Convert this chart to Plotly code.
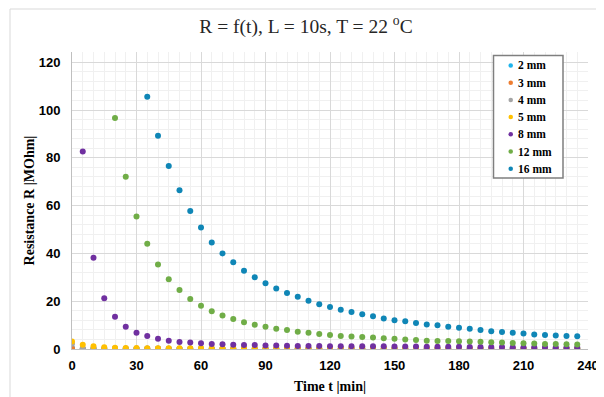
import plotly.graph_objects as go

# ---- data ----
names = ["2 mm", "3 mm", "4 mm", "5 mm", "8 mm", "12 mm", "16 mm"]
colors = ["#1FB4EC", "#ED7D31", "#A5A5A5", "#FFC000", "#7030A0", "#70AD47", "#0F86B6"]

t_2mm = list(range(0, 240, 5))
r_2mm = [0.3, 0.1, 0.1, 0.1, 0.1, 0.1, 0.1, 0.1, 0.1, 0.1, 0.1, 0.1, 0.1, 0.1, 0.1, 0.1,
         0.1, 0.1, 0.1, 0.1, 0.1, 0.1, 0.1, 0.1, 0.1, 0.1, 0.1, 0.1, 0.1, 0.1, 0.1, 0.1,
         0.1, 0.1, 0.1, 0.1, 0.1, 0.1, 0.1, 0.1, 0.1, 0.1, 0.1, 0.1, 0.1, 0.1, 0.1, 0.1]

t_3mm = list(range(0, 240, 5))
r_3mm = [0.2, 0.1, 0.1, 0.1, 0.1, 0.1, 0.1, 0.1, 0.1, 0.1, 0.1, 0.1, 0.1, 0.1, 0.1, 0.1,
         0.1, 0.1, 0.1, 0.1, 0.1, 0.1, 0.1, 0.1, 0.1, 0.1, 0.1, 0.1, 0.1, 0.1, 0.1, 0.1,
         0.1, 0.1, 0.1, 0.1, 0.1, 0.1, 0.1, 0.1, 0.1, 0.1, 0.1, 0.1, 0.1, 0.1, 0.1, 0.1]

t_4mm = list(range(0, 240, 5))
r_4mm = [2.2, 0.2, 0.2, 0.2, 0.2, 0.2, 0.2, 0.2, 0.2, 0.1, 0.1, 0.1, 0.1, 0.1, 0.1, 0.1,
         0.1, 0.1, 0.1, 0.1, 0.1, 0.1, 0.1, 0.1, 0.1, 0.1, 0.1, 0.1, 0.1, 0.1, 0.1, 0.1,
         0.1, 0.1, 0.1, 0.1, 0.1, 0.1, 0.1, 0.1, 0.1, 0.1, 0.1, 0.1, 0.1, 0.1, 0.1, 0.1]

t_5mm = list(range(0, 240, 5))
r_5mm = [3.1, 1.8, 1.1, 0.7, 0.5, 0.4, 0.4, 0.3, 0.3, 0.3, 0.3, 0.3, 0.3, 0.2, 0.2, 0.2,
         0.2, 0.2, 0.2, 0.2, 0.2, 0.2, 0.2, 0.2, 0.2, 0.2, 0.2, 0.2, 0.2, 0.2, 0.2, 0.2,
         0.2, 0.1, 0.1, 0.1, 0.1, 0.1, 0.1, 0.1, 0.1, 0.1, 0.1, 0.1, 0.1, 0.1, 0.1, 0.1]

t_8mm = list(range(5, 240, 5))
r_8mm = [82.7, 38.2, 21.2, 13.5, 9.3, 6.8, 5.4, 4.3, 3.5, 2.9,
         2.7, 2.4, 2.1, 2.0, 1.8, 1.7, 1.7, 1.5, 1.5, 1.4,
         1.3, 1.3, 1.3, 1.2, 1.2, 1.2, 1.1, 1.1, 1.1, 1.0,
         1.0, 1.0, 0.9, 0.9, 0.9, 0.9, 0.8, 0.8, 0.8, 0.8,
         0.7, 0.7, 0.7, 0.7, 0.6, 0.6, 0.6]

t_12mm = list(range(20, 240, 5))
r_12mm = [96.7, 72.1, 55.5, 44.0, 35.4, 29.2, 24.7, 20.9, 18.1, 15.8,
          14.0, 12.6, 11.2, 10.2, 9.3, 8.5, 7.9, 7.2, 6.8, 6.3,
          5.9, 5.4, 5.2, 5.0, 4.8, 4.5, 4.3, 4.0, 3.8, 3.5,
          3.4, 3.3, 3.2, 3.1, 3.0, 2.8, 2.7, 2.5, 2.4, 2.3,
          2.1, 2.1, 2.0, 1.9]

t_16mm = list(range(35, 240, 5))
r_16mm = [105.6, 89.3, 76.6, 66.4, 57.8, 50.8, 44.6, 40.0, 36.3, 32.8,
          30.0, 27.5, 25.3, 23.4, 21.9, 20.2, 18.7, 17.6, 16.4, 15.5,
          14.5, 13.7, 12.8, 12.0, 11.6, 10.9, 10.3, 9.9, 9.3, 8.9,
          8.5, 7.9, 7.4, 7.1, 6.8, 6.5, 6.1, 5.9, 5.6, 5.4, 5.3]

xs = [t_2mm, t_3mm, t_4mm, t_5mm, t_8mm, t_12mm, t_16mm]
ys = [r_2mm, r_3mm, r_4mm, r_5mm, r_8mm, r_12mm, r_16mm]

x_ticks = [0, 30, 60, 90, 120, 150, 180, 210, 240]
y_ticks = [0, 20, 40, 60, 80, 100, 120]

serif = "Liberation Serif, Times New Roman, serif"
sans = "Liberation Sans, Arial, sans-serif"

# The page body has an 8px margin, so the figure is drawn 8px smaller and
# everything is expressed in screen pixels minus that offset.
OFF = 8
W, H = 604 - OFF, 397 - OFF
L, R, T, B = 72 - OFF, 16, 52 - OFF, 48
PW, PH = W - L - R, H - T - B


def px(sx):
    return (sx - OFF - L) / PW


def py(sy):
    return (H - B - (sy - OFF)) / PH


fig = go.Figure()
for n, c, x, y in zip(names, colors, xs, ys):
    fig.add_trace(go.Scatter(x=x, y=y, mode="markers", name=n, showlegend=False,
                             marker=dict(color=c, size=6, line=dict(width=0))))

fig.update_layout(
    width=W, height=H,
    margin=dict(l=L, r=R, t=T, b=B, autoexpand=False),
    paper_bgcolor="white", plot_bgcolor="white",
    title=dict(text="R = f(t), L = 10s, T = 22 <sup>o</sup>C",
               font=dict(family=serif, size=19.5, color="#262626"),
               x=0.5, xanchor="center", y=1 - 18 / H, yanchor="middle", automargin=False),
    showlegend=False,
    xaxis=dict(range=[0, 240], tickvals=x_ticks, ticktext=[str(v) for v in x_ticks],
               automargin=False,
               showgrid=True, gridcolor="#D9D9D9", gridwidth=1,
               minor=dict(dtick=5, showgrid=True, gridcolor="#F0F0F0", gridwidth=1),
               showline=True, linecolor="#BFBFBF", linewidth=1,
               zeroline=False, ticks="", ticklabelstandoff=4,
               tickfont=dict(family=sans, size=13, color="#000000", weight="bold"),
               title=dict(text="Time t |min|", standoff=9,
                          font=dict(family=serif, size=14, color="#000000", weight="bold"))),
    yaxis=dict(range=[0, 124.3], tickvals=y_ticks, ticktext=[str(v) for v in y_ticks],
               automargin=False,
               showgrid=True, gridcolor="#D9D9D9", gridwidth=1,
               minor=dict(dtick=4, showgrid=True, gridcolor="#F0F0F0", gridwidth=1),
               showline=True, linecolor="#BFBFBF", linewidth=1,
               zeroline=False, ticks="", ticklabelstandoff=8,
               tickfont=dict(family=sans, size=13, color="#000000", weight="bold"),
               title=dict(text="Resistance R |MOhm|", standoff=0,
                          font=dict(family=serif, size=14, color="#000000", weight="bold"))),
)

# chart-area border (left and top visible)
fig.add_shape(type="line", xref="paper", yref="paper", x0=px(10), x1=px(10), y0=py(420), y1=py(9),
              line=dict(color="#D9D9D9", width=1))
fig.add_shape(type="line", xref="paper", yref="paper", x0=px(10), x1=px(640), y0=py(9), y1=py(9),
              line=dict(color="#D9D9D9", width=1))

# legend box drawn by hand (Excel-style compact rows)
fig.add_shape(type="rect", xref="paper", yref="paper",
              x0=px(493.5), x1=px(563), y0=py(178), y1=py(55.5),
              line=dict(color="#7F7F7F", width=1.5), fillcolor="white", layer="above")
row0, step = 65.5, 17.2
for i, (n, c) in enumerate(zip(names, colors)):
    sy = row0 + i * step
    fig.add_shape(type="circle", xref="paper", yref="paper",
                  x0=px(508.5), x1=px(513), y0=py(sy + 2.25), y1=py(sy - 2.25),
                  line=dict(width=0), fillcolor=c, layer="above")
    fig.add_annotation(xref="paper", yref="paper", x=px(516), y=py(sy),
                       xanchor="left", yanchor="middle", showarrow=False,
                       text=n, font=dict(family=serif, size=11.5, color="#000000", weight="bold"))

fig.write_html("out.html")
